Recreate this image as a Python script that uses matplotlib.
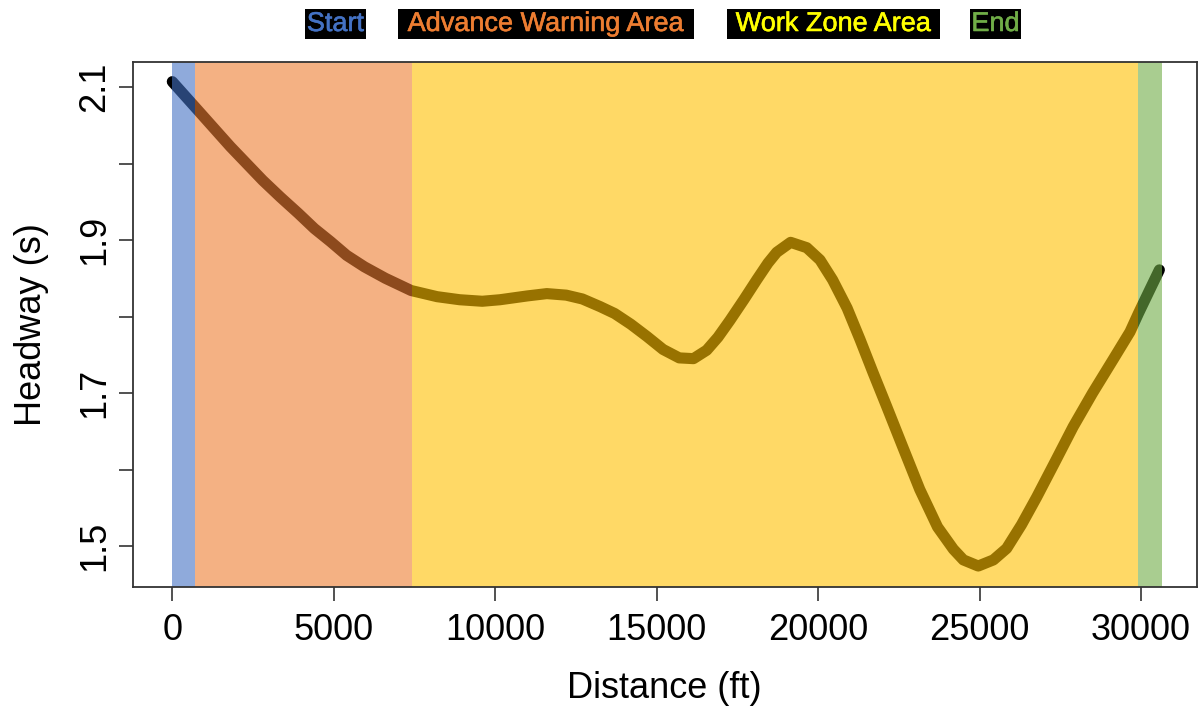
import matplotlib
matplotlib.use("Agg")
import matplotlib.pyplot as plt
import matplotlib.patheffects as pe
from matplotlib.patches import Rectangle

# ---- data ----
distance_ft = [0, 700, 1250, 1800, 2300, 2800, 3350, 3900, 4400, 4900, 5400, 5950,
               6600, 7400, 8200, 8900, 9600, 10150, 11000, 11600, 12200, 12700,
               13250, 13700, 14200, 14700, 15200, 15700, 16140, 16550, 16900,
               17270, 17700, 18100, 18450, 18720, 19150, 19650, 20060, 20450,
               20900, 21300, 21700, 22120, 22600, 23150, 23700, 24190, 24500,
               24960, 25430, 25840, 26300, 26770, 27350, 27900, 28500, 29140,
               29660, 29920, 30250, 30570]
headway_s = [2.107, 2.074, 2.048, 2.022, 2.000, 1.978, 1.956, 1.935, 1.915, 1.898, 1.880, 1.865,
             1.850, 1.834, 1.826, 1.822, 1.820, 1.822, 1.827, 1.830, 1.828, 1.823,
             1.813, 1.804, 1.790, 1.774, 1.757, 1.746, 1.745, 1.756, 1.773,
             1.795, 1.822, 1.848, 1.870, 1.884, 1.897, 1.890, 1.874, 1.848,
             1.811, 1.770, 1.727, 1.683, 1.632, 1.574, 1.525, 1.496, 1.482,
             1.474, 1.482, 1.497, 1.528, 1.564, 1.611, 1.656, 1.700, 1.744,
             1.780, 1.804, 1.833, 1.861]

zone_names = ["Start", "Advance Warning Area", "Work Zone Area", "End"]
zone_starts = [0, 712, 7420, 29916]
zone_ends = [712, 7420, 29916, 30640]
zone_colors = ["#4472C4", "#ED7D31", "#FFC000", "#70AD47"]
label_colors = ["#4472C4", "#ED7D31", "#FFFF00", "#70AD47"]

xticks = [0, 5000, 10000, 15000, 20000, 25000, 30000]
yticks = [1.5, 1.6, 1.7, 1.8, 1.9, 2.0, 2.1]
ytick_labels = ["1.5", "", "1.7", "", "1.9", "", "2.1"]

plt.rcParams['font.family'] = ['Liberation Sans', 'DejaVu Sans']

W, H = 1199, 709
fig = plt.figure(figsize=(W / 100, H / 100), dpi=100)
ax = fig.add_axes([132.9 / W, 1 - 587 / H, (1196.5 - 132.9) / W, (587 - 62.2) / H])

ax.plot(distance_ft, headway_s, color="black", lw=8, solid_capstyle="round",
        solid_joinstyle="round", zorder=2)
for s, e, c in zip(zone_starts, zone_ends, zone_colors):
    ax.axvspan(s, e, color=c, alpha=0.6, lw=0, zorder=3)

ax.set_xlim(-1220, 31720)
ax.set_ylim(1.4466, 2.1324)
ax.set_xticks(xticks)
ax.set_xticklabels([str(t) for t in xticks])
ax.set_yticks(yticks)
ax.set_yticklabels(ytick_labels, rotation=90, va="center")
ax.tick_params(axis="both", labelsize=26, length=10, width=1.2, color="#333333")
ax.tick_params(axis="x", pad=9)
ax.tick_params(axis="y", pad=5)
for sp in ax.spines.values():
    sp.set_linewidth(1.3)
    sp.set_color("#333333")
    sp.set_zorder(5)

ax.set_xlabel("Distance (ft)", fontsize=26, labelpad=16)
ax.set_ylabel("Headway (s)", fontsize=26, labelpad=20)

# header boxes
box_x0 = [305, 398, 727, 970]
box_x1 = [366, 694, 940, 1021]
for name, x0, x1, tc in zip(zone_names, box_x0, box_x1, label_colors):
    fig.patches.append(Rectangle((x0 / W, 1 - 39 / H), (x1 - x0) / W, 30 / H,
                                 transform=fig.transFigure, facecolor="black",
                                 edgecolor="none"))
    t = fig.text((x0 + x1) / 2 / W, 1 - 24 / H, name, color=tc, fontsize=19.5,
                 ha="center", va="center")
    t.set_path_effects([pe.Stroke(linewidth=0.4, foreground=tc), pe.Normal()])

fig.savefig("out.png", dpi=100)
